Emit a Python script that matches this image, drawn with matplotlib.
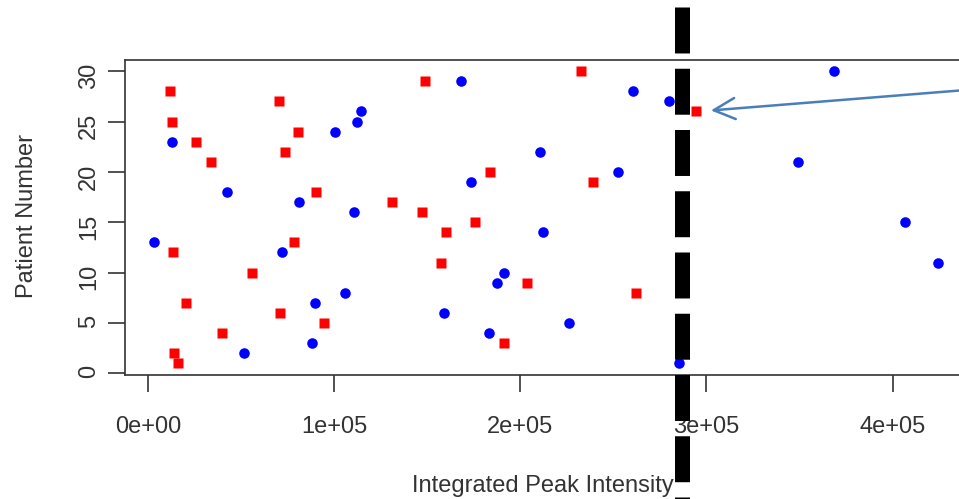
import matplotlib
matplotlib.use("Agg")
import matplotlib.pyplot as plt
from matplotlib.patches import ArrowStyle

# integrated peak intensity for each patient, two measurement groups
patients = list(range(1, 31))
intensity_red = [16000, 13800, 191100, 39800, 94600, 71000, 20300, 262000, 203400, 55800,
                 157200, 13400, 78500, 159900, 175800, 147000, 131000, 90000, 239200, 183900,
                 33700, 73500, 25500, 80300, 12600, 294300, 70100, 11700, 148800, 232500]
intensity_blue = [285000, 51300, 87800, 183300, 226300, 158800, 89800, 105800, 187500, 191100,
                  424400, 71700, 3200, 212000, 406700, 110600, 81000, 42100, 173300, 252700,
                  349300, 210600, 12600, 100500, 112200, 114400, 279800, 260400, 168100, 368700]

x_ticks = [0, 100000, 200000, 300000, 400000]
x_tick_labels = ["0e+00", "1e+05", "2e+05", "3e+05", "4e+05"]
y_ticks = [0, 5, 10, 15, 20, 25, 30]

cutoff = 286800          # threshold intensity (dashed line)
flagged = (294300, 26)   # patient 26, red group

plt.rcParams['font.family'] = ['Liberation Sans', 'DejaVu Sans']
plt.rcParams['lines.scale_dashes'] = False
text_color = '#333333'

fig = plt.figure(figsize=(9.59, 4.99), dpi=100)
ax = fig.add_axes([124.5 / 959, (499 - 374.9) / 499, 844.3 / 959, 315.4 / 499])

ax.plot(intensity_blue, patients, 'o', color='#0000ff', ms=7.6, mec='none')
ax.plot(intensity_red, patients, 's', color='#ff0000', ms=7.8, mec='none')

ax.set_xlim(-12800, 441000)
ax.set_ylim(-0.16, 31.16)
ax.set_xticks(x_ticks)
ax.set_xticklabels(x_tick_labels)
ax.set_yticks(y_ticks)

for s in ax.spines.values():
    s.set_linewidth(1.2)
    s.set_color('#333333')

ax.tick_params(axis='both', direction='out', length=12, width=1.2, color='#333333',
               labelsize=17, labelcolor=text_color)
ax.tick_params(axis='x', pad=17.5)
ax.tick_params(axis='y', pad=5.6, labelrotation=90)

ax.set_xlabel("Integrated Peak Intensity", fontsize=17, color=text_color)
ax.set_ylabel("Patient Number", fontsize=17, color=text_color)
ax.xaxis.set_label_coords(0.495, -0.3164)
ax.yaxis.set_label_coords(-0.1025, 0.504)

# thick dashed cutoff line running past the plot box
trans = ax.get_xaxis_transform()
ax.plot([cutoff, cutoff], [1.1664, -0.45], transform=trans, color='black',
        lw=10.8, dashes=(33.1, 11.0), solid_capstyle='butt', dash_capstyle='butt',
        clip_on=False, zorder=5)

# arrow pointing at the flagged patient
ax.annotate("", xy=(flagged[0] + 8100, flagged[1] + 0.1), xytext=(436000, 28.08),
            arrowprops=dict(arrowstyle=ArrowStyle('->', head_length=15.3, head_width=7.6),
                            mutation_scale=1, color='#4a7ebb', lw=1.8,
                            shrinkA=0, shrinkB=0),
            annotation_clip=False, zorder=6)

fig.savefig("out.png", dpi=100)
